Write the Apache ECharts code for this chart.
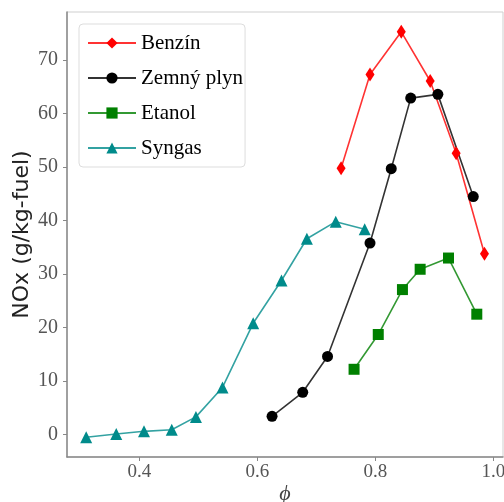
<!DOCTYPE html>
<html>
<head>
<meta charset="utf-8">
<script src="https://cdn.jsdelivr.net/npm/echarts@6/dist/echarts.min.js"></script>
<style>
  html, body { margin: 0; padding: 0; background: #fff; }
  #chart { width: 504px; height: 502px; }
</style>
</head>
<body>
<div id="chart"></div>
<script>
// Equivalence ratio (phi) and NOx emission index for each fuel
const benzinPhi = [0.742, 0.791, 0.844, 0.893, 0.937, 0.985];
const benzinNox = [49.8, 67.3, 75.3, 66.1, 52.6, 33.8];

const plynPhi = [0.625, 0.677, 0.719, 0.791, 0.827, 0.860, 0.906, 0.966];
const plynNox = [3.4, 7.9, 14.6, 35.8, 49.7, 62.9, 63.6, 44.5];

const etanolPhi = [0.764, 0.805, 0.846, 0.876, 0.924, 0.972];
const etanolNox = [12.2, 18.7, 27.1, 30.9, 33.0, 22.5];

const syngasPhi = [0.310, 0.361, 0.408, 0.455, 0.496, 0.541, 0.593, 0.641, 0.684, 0.733, 0.782];
const syngasNox = [-0.5, 0.1, 0.6, 0.9, 3.3, 8.8, 20.8, 28.8, 36.6, 39.8, 38.4];

const xTicks = [0.4, 0.6, 0.8, 1.0];
const yTicks = [0, 10, 20, 30, 40, 50, 60, 70];

const pairs = (xs, ys) => xs.map((x, i) => [x, ys[i]]);

const serifFont = '"Liberation Serif", "DejaVu Serif", serif';

function lineSeries(name, xs, ys, color, symbol, size) {
  return {
    name: name,
    type: 'line',
    data: pairs(xs, ys),
    symbol: symbol,
    symbolSize: size,
    lineStyle: { color: color, width: 1.6, opacity: 0.8 },
    itemStyle: { color: color, opacity: 1 },
    z: 3
  };
}

const chart = echarts.init(document.getElementById('chart'), null, { renderer: 'canvas' });

chart.setOption({
  animation: false,
  backgroundColor: '#fff',
  grid: {
    left: 67, right: 1, top: 12, bottom: 45,
    outerBoundsMode: 'none',
    containLabel: false,
    show: true, borderColor: '#cfcfcf', borderWidth: 1, backgroundColor: 'transparent'
  },
  xAxis: {
    type: 'value',
    min: 0.2775, max: 1.0164,
    splitLine: { show: false },
    axisLine: { show: true, onZero: false, lineStyle: { color: '#888', width: 1.5 } },
    axisTick: { show: true, customValues: xTicks, length: 4, lineStyle: { color: '#888' } },
    axisLabel: {
      customValues: xTicks,
      formatter: v => v.toFixed(1),
      color: '#555', fontFamily: serifFont, fontSize: 19, margin: 6
    },
    name: 'ϕ',
    nameLocation: 'middle',
    nameGap: 26,
    nameMoveOverlap: false,
    nameTextStyle: { fontFamily: serifFont, fontStyle: 'italic', fontSize: 22, color: '#444' }
  },
  yAxis: {
    type: 'value',
    min: -4.2, max: 79,
    splitLine: { show: false },
    axisLine: { show: true, onZero: false, lineStyle: { color: '#888', width: 1.5 } },
    axisTick: { show: true, customValues: yTicks, length: 4, lineStyle: { color: '#888' } },
    axisLabel: {
      customValues: yTicks,
      color: '#555', fontFamily: serifFont, fontSize: 20, margin: 9
    },
    name: 'NOx (g/kg-fuel)',
    nameLocation: 'middle',
    nameGap: 34,
    nameMoveOverlap: false,
    nameTextStyle: { fontFamily: '"DejaVu Sans", sans-serif', fontSize: 22, color: '#222' }
  },
  legend: {
    orient: 'vertical',
    left: 79, top: 24,
    padding: [8, 2, 8, 8],
    itemWidth: 48, itemHeight: 14,
    itemGap: 13,
    backgroundColor: '#fff',
    borderColor: '#ddd', borderWidth: 1, borderRadius: 4,
    textStyle: { fontFamily: serifFont, fontSize: 21, color: '#000', lineHeight: 22 },
    data: ['Benzín', 'Zemný plyn', 'Etanol', 'Syngas']
  },
  series: [
    lineSeries('Benzín', benzinPhi, benzinNox, '#ff0000', 'diamond', [9, 14]),
    lineSeries('Zemný plyn', plynPhi, plynNox, '#000000', 'circle', 11),
    lineSeries('Etanol', etanolPhi, etanolNox, '#008000', 'rect', 11),
    lineSeries('Syngas', syngasPhi, syngasNox, '#008b8b', 'triangle', 12)
  ]
});
</script>
</body>
</html>
